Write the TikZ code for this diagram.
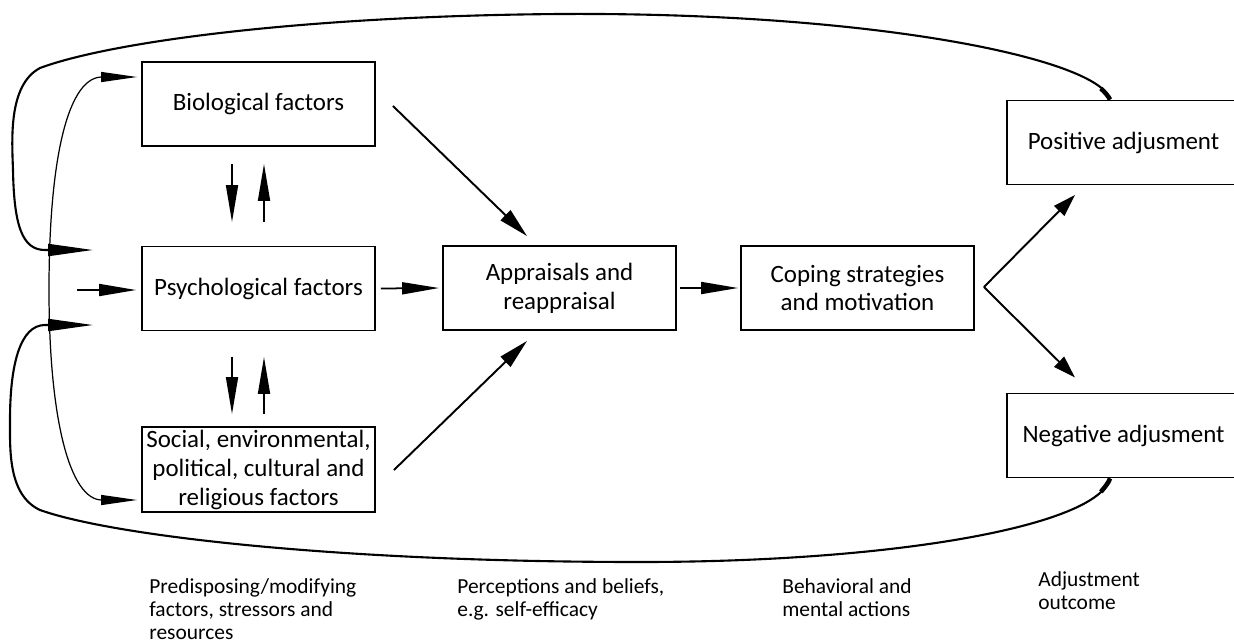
\documentclass[tikz,border=0pt]{standalone}
\usepackage{fontspec}
\setmainfont{Carlito}
\usetikzlibrary{arrows.meta}

\begin{document}
\begin{tikzpicture}[x=0.02cm, y=0.02cm]
		\tikzstyle{every node}+=[inner sep=0pt]
		\tikzstyle{box}=[draw, black, line width=1.1pt, minimum width=4.66cm, minimum height=1.68cm, align=center, font=\fontsize{14.2}{16.5}\selectfont]
		\tikzstyle{note}=[anchor=north west, align=left, font=\fontsize{12.2}{13.1}\selectfont]
		\tikzstyle{arr}=[black, line width=1pt, -{Triangle[length=0.74cm,width=0.24cm]}]
		\tikzstyle{diag}=[black, line width=1.1pt, -{Triangle[length=0.6cm,width=0.28cm]}]
		\tikzstyle{fork}=[black, line width=1.1pt, -{Triangle[length=0.45cm,width=0.28cm]}]
		\tikzstyle{loop}=[black, line width=1.2pt, -{Triangle[length=0.9cm,width=0.24cm]}]
		\tikzstyle{thin}=[black, line width=0.7pt, {Triangle[length=0.72cm,width=0.2cm]}-{Triangle[length=0.72cm,width=0.2cm]}]
		\useasboundingbox (0,0) rectangle (1234,-643);
		\node [box] (bio) at (258.5,-104) {Biological factors};
		\node [box] (psy) at (258.5,-288.5) {Psychological factors};
		\node [box, minimum height=1.7cm] (soc) at (258.5,-469.5) {Social, environmental,\\political, cultural and\\religious factors};
		\node [box] (app) at (559.5,-288) {Appraisals and\\reappraisal};
		\node [box] (cop) at (857.5,-288) {Coping strategies\\and motivation};
		\node [box] (pos) at (1123.5,-142.5) {Positive adjusment};
		\node [box] (neg) at (1123.5,-435.5) {Negative adjusment};
		\node [note] (n1) at (149,-578) {Predisposing/modifying\\factors, stressors and\\resources};
		\node [note] (n2) at (457,-578) {Perceptions and beliefs,\\e.g. self-efficacy};
		\node [note] (n3) at (782,-578) {Behavioral and\\mental actions};
		\node [note] (n4) at (1038,-571) {Adjustment\\outcome};
		\coordinate (inL) at (77,-290);
		\coordinate (fork) at ([xshift=0.18cm,yshift=0.02cm]cop.east);
		\coordinate (fbT) at (93,-250);
		\coordinate (fbB) at (93,-325);
		\draw [arr] (inL) -- ([xshift=-0.1cm,yshift=-0.03cm]psy.west);
		\draw [arr] ([xshift=0.1cm]psy.east) -- ([xshift=-0.06cm]app.west);
		\draw [arr] ([xshift=0.06cm]app.east) -- ([xshift=-0.04cm]cop.west);
		\draw [arr] ([xshift=-0.53cm,yshift=-0.34cm]bio.south) -- ([xshift=-0.53cm,yshift=0.47cm]psy.north);
		\draw [arr] ([xshift=0.11cm,yshift=0.47cm]psy.north) -- ([xshift=0.11cm,yshift=-0.34cm]bio.south);
		\draw [arr] ([xshift=-0.53cm,yshift=-0.51cm]psy.south) -- ([xshift=-0.53cm,yshift=0.24cm]soc.north);
		\draw [arr] ([xshift=0.11cm,yshift=0.24cm]soc.north) -- ([xshift=0.11cm,yshift=-0.51cm]psy.south);
		\draw [diag] ([xshift=0.34cm,yshift=-0.04cm]bio.east) -- ([xshift=-0.65cm,yshift=0.18cm]app.north);
		\draw [diag] ([xshift=0.36cm,yshift=-0.01cm]soc.east) -- ([xshift=-0.65cm,yshift=-0.2cm]app.south);
		\draw [fork] (fork) -- ([xshift=-0.97cm,yshift=-0.19cm]pos.south);
		\draw [fork] (fork) -- ([xshift=-0.97cm,yshift=0.3cm]neg.north);
		\draw [loop] ([xshift=-0.27cm]pos.north) .. controls (1100,-60) and (880,-12) .. (560,-14) .. controls (300,-16) and (110,-42) .. (40,-68) .. controls (8,-85) and (12,-140) .. (13,-170) .. controls (14,-225) and (22,-250) .. (45,-250) -- (fbT);
		\draw [loop] ([xshift=-0.27cm]neg.south) .. controls (1098,-525) and (900,-562) .. (640,-562) .. controls (330,-562) and (110,-535) .. (40,-510) .. controls (8,-495) and (10,-450) .. (10,-420) .. controls (10,-365) and (20,-325) .. (45,-325) -- (fbB);
		\draw [black, line width=2.6pt] ([xshift=-0.27cm]pos.north) .. controls (1109,-97) and (1104,-91) .. (1100.8,-88.5);
		\draw [black, line width=2.6pt] ([xshift=-0.27cm]neg.south) .. controls (1108.8,-482.7) and (1104,-488) .. (1100.9,-491.8);
		\draw [thin] ([xshift=-0.08cm,yshift=0.54cm]bio.west) -- (102,-77) .. controls (70,-77) and (49,-150) .. (49,-290) .. controls (49,-420) and (70,-500) .. (102,-500) -- ([xshift=-0.08cm,yshift=-0.61cm]soc.west);
	\end{tikzpicture}
\end{document}
